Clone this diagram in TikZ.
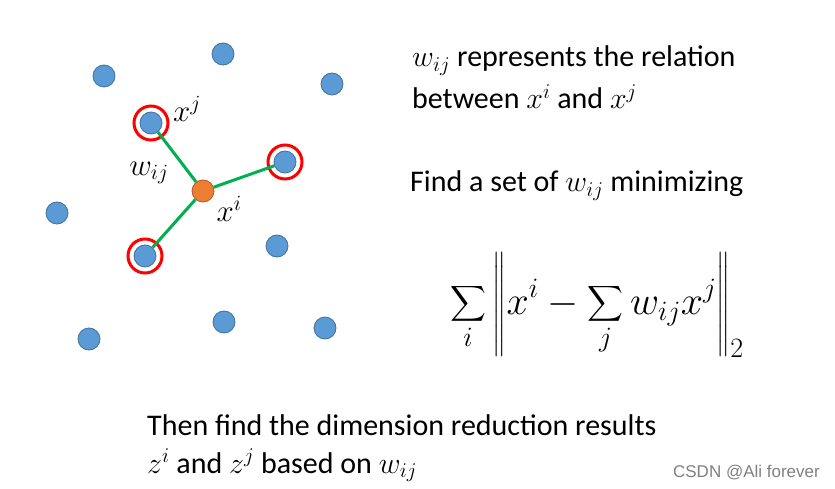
\RequirePackage{fix-cm}
\documentclass[tikz,border=0pt]{standalone}
\usepackage{amsmath}
\usepackage{fontspec}
\setmainfont{Carlito}
\usetikzlibrary{positioning}
\definecolor{dotblue}{RGB}{91,155,213}
\definecolor{dotedge}{RGB}{65,113,156}
\definecolor{dotorange}{RGB}{237,125,49}
\definecolor{orangeedge}{RGB}{174,90,33}
\definecolor{linkgreen}{RGB}{0,176,80}
\tikzset{
  pt/.style={circle, fill=dotblue, draw=dotedge, line width=0.8pt, minimum size=22pt, inner sep=0pt},
  ctr/.style={circle, fill=dotorange, draw=orangeedge, line width=0.8pt, minimum size=22pt, inner sep=0pt},
  ring/.style={circle, draw=red, line width=3pt, minimum size=34pt, inner sep=0pt},
  link/.style={draw=linkgreen, line width=3pt},
  lbl/.style={font=\fontsize{31}{36}\selectfont, inner sep=0pt},
  txt/.style={anchor=base west, font=\fontsize{30}{36}\selectfont, inner sep=0pt}
}
\begin{document}
\begin{tikzpicture}[x=1pt, y=-1pt]
\useasboundingbox (0,0) rectangle (835,489);
% scattered samples
\foreach \px/\py [count=\k] in {104/76, 223/54, 332/84, 57/213, 277/246, 224/322, 89/339, 325/328}
  \node[pt] (s\k) at (\px,\py) {};
% neighbours of x^i
\node[pt] (nj) at (151,123) {};
\node[pt] (nr) at (285,162) {};
\node[pt] (nb) at (145,256) {};
\foreach \n in {nj, nr, nb}
  \node[ring] at (\n) {};
\node[ctr] (xi) at (203,191) {};
\draw[link] (xi) -- (nj);
\draw[link] (xi) -- (nr);
\draw[link] (xi) -- (nb);
\node[lbl] (lxj) at (187,109) {$x^j$};
\node[lbl] (lw) at (149,173) {$w_{ij}$};
\node[lbl] (lxi) at (229,209) {$x^i$};
% explanations
\node[txt] (t1) at (412,67) {$w_{ij}$ represents the relation};
\node[txt] (t2) at (412,109) {between $x^i$ and $x^j$};
\node[txt] (t3) at (410,192) {Find a set of $w_{ij}$ minimizing};
\node[font=\fontsize{40}{48}\selectfont, inner sep=0pt] (obj) at (597,305)
  {$\displaystyle\sum_i \left\| x^i - \sum_j w_{ij} x^j \right\|_2$};
\node[txt] (t4) at (147,435) {Then find the dimension reduction results};
\node[txt] (t5) at (147,473) {$z^i$ and $z^j$ based on $w_{ij}$};
\node[anchor=base east, text=gray, font=\fontsize{17}{20}\selectfont\fontspec{Liberation Sans}, inner sep=0pt] (mark) at (820,477) {CSDN @Ali forever};
\end{tikzpicture}
\end{document}
